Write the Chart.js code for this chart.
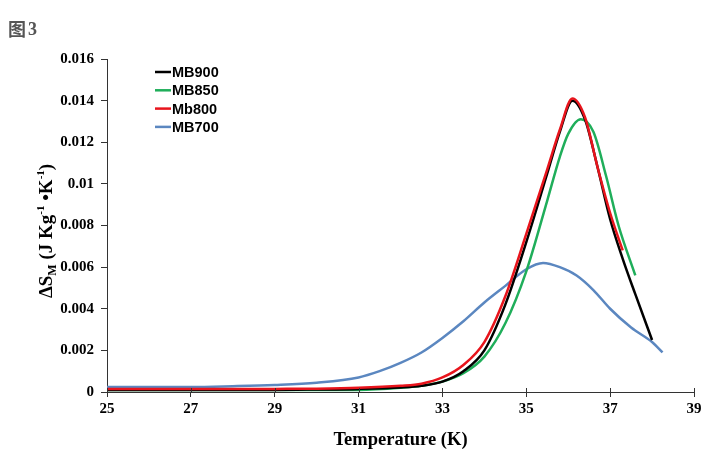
<!DOCTYPE html>
<html>
<head>
<meta charset="utf-8">
<script src="https://cdn.jsdelivr.net/npm/chart.js@4.4.1/dist/chart.umd.min.js"></script>
<style>
  body { margin: 0; background: #ffffff; }
  #wrap { width: 720px; height: 463px; }
</style>
</head>
<body>
<div id="wrap"><canvas id="myChart" width="720" height="463"></canvas></div>
<script>
// data (temperature in K, entropy change in J/kg/K)
const tempMB900 = [25, 27, 29, 30, 31, 32, 32.5, 33, 33.5, 34, 34.5, 35, 35.5, 35.8, 36.1, 36.4, 36.7, 37, 37.3, 37.6, 38];
const valMB900 = [0.0001, 0.0001, 0.0001, 0.00012, 0.00015, 0.00022, 0.0003, 0.0005, 0.001, 0.002, 0.0042, 0.0072, 0.0105, 0.0125, 0.014, 0.0131, 0.0108, 0.0083, 0.0064, 0.0047, 0.0025];

const tempMB850 = [25, 27, 29, 31, 32, 32.5, 33, 33.5, 34, 34.5, 35, 35.5, 35.8, 36, 36.3, 36.6, 36.9, 37.2, 37.6];
const valMB850 = [0.0001, 0.0001, 0.0001, 0.0001, 0.0002, 0.0003, 0.0005, 0.0009, 0.0017, 0.0033, 0.0058, 0.0092, 0.0113, 0.0124, 0.0131, 0.0125, 0.0104, 0.008, 0.0056];

const tempMb800 = [25, 27, 29, 30, 31, 32, 32.5, 33, 33.5, 34, 34.5, 35, 35.5, 35.8, 36.1, 36.4, 36.7, 37, 37.3];
const valMb800 = [0.00014, 0.00014, 0.00015, 0.00016, 0.0002, 0.0003, 0.0004, 0.0007, 0.0013, 0.0024, 0.0046, 0.0076, 0.0107, 0.0126, 0.0141, 0.0132, 0.0108, 0.0086, 0.0068];

const tempMB700 = [25, 27, 28, 29, 30, 31, 31.5, 32, 32.5, 33, 33.5, 34, 34.5, 35, 35.4, 35.8, 36.2, 36.6, 37, 37.5, 38, 38.25];
const valMB700 = [0.00024, 0.00024, 0.00028, 0.00034, 0.00045, 0.0007, 0.001, 0.0014, 0.0019, 0.0026, 0.0034, 0.0043, 0.0051, 0.0059, 0.0062, 0.006, 0.0056, 0.0049, 0.004, 0.0031, 0.0024, 0.0019];

const seriesNames = ['MB900', 'MB850', 'Mb800', 'MB700'];
const seriesColors = ['#000000', '#1fae5a', '#e8141c', '#5b87c0'];
const xTicks = [25, 27, 29, 31, 33, 35, 37, 39];
const yTicks = [0, 0.002, 0.004, 0.006, 0.008, 0.01, 0.012, 0.014, 0.016];

function toPoints(xs, ys) {
    return xs.map((x, i) => ({ x: x, y: ys[i] }));
}

const allSeries = [
    toPoints(tempMB900, valMB900),
    toPoints(tempMB850, valMB850),
    toPoints(tempMb800, valMb800),
    toPoints(tempMB700, valMB700)
];

// draw order: red on top, then black, green, blue
const drawOrder = [2, 0, 1, 3];

const serif = '"Liberation Serif", "Times New Roman", serif';

// Titel, Legende und Achsenbeschriftung selbst zeichnen
const decorations = {
    id: 'decorations',
    afterDraw(chart) {
        const ctx = chart.ctx;
        const area = chart.chartArea;
        ctx.save();

        // figure label
        ctx.fillStyle = '#555555';
        ctx.font = 'bold 18px "Noto Sans CJK SC"';
        ctx.textBaseline = 'middle';
        ctx.textAlign = 'left';
        ctx.fillText('图', 8, 29);
        ctx.font = 'bold 18px ' + serif;
        ctx.fillText('3', 28, 30);

        // x ticks also poke above the axis
        const xs = chart.scales.x;
        ctx.strokeStyle = '#333333';
        ctx.lineWidth = 1;
        xTicks.forEach(v => {
            const px = Math.round(xs.getPixelForValue(v)) + 0.5;
            ctx.beginPath();
            ctx.moveTo(px, area.bottom - 4);
            ctx.lineTo(px, area.bottom);
            ctx.stroke();
        });

        // legend
        ctx.font = 'bold 14.5px "Liberation Sans", Arial, sans-serif';
        ctx.textAlign = 'left';
        ctx.textBaseline = 'middle';
        seriesNames.forEach((name, i) => {
            const y = 72 + i * 18.3;
            ctx.strokeStyle = seriesColors[i];
            ctx.lineWidth = 2.5;
            ctx.beginPath();
            ctx.moveTo(155, y);
            ctx.lineTo(171, y);
            ctx.stroke();
            ctx.fillStyle = '#000000';
            ctx.fillText(name, 172, y + 1);
        });

        // y axis title with sub- and superscripts
        ctx.translate(45, 231);
        ctx.rotate(-Math.PI / 2);
        ctx.fillStyle = '#000000';
        const parts = [
            ['ΔS', 19, 0],
            ['M', 12, 4],
            [' (J Kg', 19, 0],
            ['-1', 11, -8],
            [' •K', 19, 0],
            ['-1', 11, -8],
            [')', 19, 0]
        ];
        let total = 0;
        parts.forEach(p => {
            ctx.font = 'bold ' + p[1] + 'px ' + serif;
            total += ctx.measureText(p[0]).width;
        });
        let cx = -total / 2;
        ctx.textAlign = 'left';
        ctx.textBaseline = 'alphabetic';
        parts.forEach(p => {
            ctx.font = 'bold ' + p[1] + 'px ' + serif;
            ctx.fillText(p[0], cx, 7 + p[2]);
            cx += ctx.measureText(p[0]).width;
        });
        ctx.restore();
    }
};

const options = {
    type: 'scatter',
    data: {
        datasets: drawOrder.map(i => ({
            label: seriesNames[i],
            data: allSeries[i],
            showLine: true,
            borderColor: seriesColors[i],
            backgroundColor: seriesColors[i],
            borderWidth: 2.5,
            pointRadius: 0,
            cubicInterpolationMode: 'monotone'
        }))
    },
    options: {
        responsive: false,
        animation: false,
        layout: { padding: { top: 59, right: 26, left: 0, bottom: 0 } },
        plugins: {
            legend: { display: false },
            tooltip: { enabled: false }
        },
        scales: {
            x: {
                type: 'linear',
                min: 25,
                max: 39,
                afterFit(scale) { scale.height = 71; },
                afterBuildTicks(scale) { scale.ticks = xTicks.map(v => ({ value: v })); },
                ticks: {
                    color: '#000000',
                    font: { family: serif, size: 15, weight: 'bold' },
                    padding: 3,
                    maxRotation: 0,
                    callback: v => String(v)
                },
                grid: {
                    drawOnChartArea: false,
                    drawTicks: true,
                    tickLength: 5,
                    color: '#333333'
                },
                border: { color: '#333333', width: 1 },
                title: {
                    display: true,
                    text: 'Temperature (K)',
                    color: '#000000',
                    font: { family: serif, size: 18.5, weight: 'bold' },
                    padding: { top: 0, bottom: 12 }
                }
            },
            y: {
                min: 0,
                max: 0.016,
                afterFit(scale) { scale.width = 107; },
                afterBuildTicks(scale) { scale.ticks = yTicks.map(v => ({ value: v })); },
                ticks: {
                    color: '#000000',
                    font: { family: serif, size: 15, weight: 'bold' },
                    padding: 7,
                    callback: v => String(Number(v.toFixed(3)))
                },
                grid: {
                    drawOnChartArea: false,
                    drawTicks: true,
                    tickLength: 6,
                    color: '#333333'
                },
                border: { color: '#333333', width: 1 }
            }
        }
    },
    plugins: [decorations]
};

const ctx = document.getElementById('myChart');
new Chart(ctx, options);
</script>
</body>
</html>
